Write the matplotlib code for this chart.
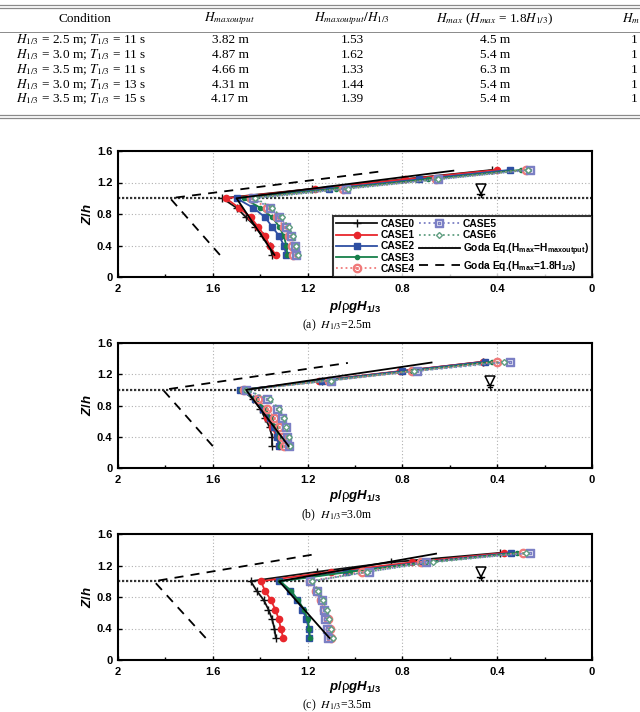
import matplotlib
matplotlib.use("Agg")
import matplotlib.pyplot as plt
from matplotlib.lines import Line2D
from matplotlib.font_manager import FontProperties

plt.rcParams['font.family'] = ['Liberation Sans', 'DejaVu Sans']
plt.rcParams['mathtext.rm'] = 'Liberation Sans:bold'
plt.rcParams['mathtext.it'] = 'Liberation Sans:bold:italic'
plt.rcParams['mathtext.bf'] = 'Liberation Sans:bold'
plt.rcParams['mathtext.sf'] = 'Liberation Sans'

# ---- table (last column is cut by the page edge in the source) ----
tbl_header = ["Condition", r"$H_{maxoutput}$", r"$H_{maxoutput}/H_{1/3}$",
              r"$H_{max}$ ($H_{max}$ = 1.8$H_{1/3}$)", r"$H_{m}$"]
tbl_cond = [r"$H_{1/3}$ = 2.5 m; $T_{1/3}$ = 11 s",
            r"$H_{1/3}$ = 3.0 m; $T_{1/3}$ = 11 s",
            r"$H_{1/3}$ = 3.5 m; $T_{1/3}$ = 11 s",
            r"$H_{1/3}$ = 3.0 m; $T_{1/3}$ = 13 s",
            r"$H_{1/3}$ = 3.5 m; $T_{1/3}$ = 15 s"]
tbl_hout = ["3.82 m", "4.87 m", "4.66 m", "4.31 m", "4.17 m"]
tbl_ratio = ["1.53", "1.62", "1.33", "1.44", "1.39"]
tbl_hmax = ["4.5 m", "5.4 m", "6.3 m", "5.4 m", "5.4 m"]
tbl_last = ["1", "1", "1", "1", "1"]

# ---- chart data ----
case_names = ["CASE0", "CASE1", "CASE2", "CASE3", "CASE4", "CASE5", "CASE6"]
z_lv = [0.28, 0.40, 0.52, 0.64, 0.76, 0.88, 1.00, 1.12, 1.24, 1.36]

p_25 = [
    [1.35, 1.36, 1.39, 1.42, 1.46, 1.50, 1.56, 1.18, 0.80, 0.42],
    [1.335, 1.36, 1.38, 1.41, 1.44, 1.49, 1.545, 1.17, 0.79, 0.40],
    [1.29, 1.30, 1.32, 1.35, 1.38, 1.43, 1.50, 1.11, 0.73, 0.345],
    [1.285, 1.29, 1.30, 1.32, 1.35, 1.40, 1.47, 1.08, 0.69, 0.30],
    [1.26, 1.265, 1.28, 1.30, 1.33, 1.37, 1.44, 1.05, 0.66, 0.28],
    [1.25, 1.255, 1.27, 1.29, 1.32, 1.36, 1.43, 1.04, 0.65, 0.26],
    [1.24, 1.25, 1.26, 1.28, 1.31, 1.35, 1.42, 1.03, 0.65, 0.27],
]
p_30 = [
    [1.35, 1.35, 1.36, 1.38, 1.40, 1.43, 1.475, 1.14, 0.80, 0.46],
    [1.32, 1.33, 1.35, 1.37, 1.39, 1.42, 1.48, 1.15, 0.81, 0.46],
    [1.32, 1.33, 1.34, 1.36, 1.39, 1.42, 1.485, 1.14, 0.80, 0.45],
    [1.315, 1.32, 1.335, 1.355, 1.38, 1.42, 1.48, 1.12, 0.77, 0.42],
    [1.30, 1.31, 1.32, 1.34, 1.37, 1.41, 1.47, 1.11, 0.76, 0.40],
    [1.28, 1.285, 1.29, 1.31, 1.33, 1.37, 1.46, 1.10, 0.74, 0.345],
    [1.275, 1.28, 1.29, 1.30, 1.32, 1.36, 1.46, 1.10, 0.75, 0.37],
]
p_35 = [
    [1.334, 1.34, 1.35, 1.365, 1.385, 1.415, 1.44, 1.16, 0.85, 0.39],
    [1.303, 1.313, 1.322, 1.336, 1.355, 1.38, 1.397, 1.10, 0.76, 0.37],
    [1.193, 1.196, 1.205, 1.222, 1.245, 1.275, 1.32, 1.04, 0.72, 0.34],
    [1.19, 1.193, 1.20, 1.215, 1.24, 1.27, 1.315, 1.02, 0.70, 0.315],
    [1.10, 1.105, 1.115, 1.13, 1.145, 1.165, 1.19, 0.97, 0.72, 0.29],
    [1.115, 1.118, 1.125, 1.13, 1.14, 1.16, 1.19, 0.94, 0.70, 0.26],
    [1.094, 1.10, 1.11, 1.12, 1.135, 1.155, 1.18, 0.95, 0.67, 0.28],
]

goda_out_z = [0.28, 1.0, 1.35]
goda_out_25 = [1.34, 1.50, 0.585]
goda_out_30 = [1.28, 1.46, 0.677]
goda_out_35 = [1.108, 1.32, 0.658]
goda_18_z = [0.28, 1.0, 1.345]
goda_18_25 = [1.57, 1.78, 0.88]
goda_18_30 = [1.60, 1.81, 1.03]
goda_18_35 = [1.63, 1.848, 1.165]

swl_x = [0.47, 0.43, 0.47]
captions = [r"(a)  $H_{\mathrm{1/3}}$=2.5m", r"(b)  $H_{\mathrm{1/3}}$=3.0m", r"(c)  $H_{\mathrm{1/3}}$=3.5m"]

colors = ["#111111", "#e8262c", "#2e4fa3", "#17804a", "#f07a7a", "#7b7fc4", "#5f9e80"]
markers = ["+", "o", "s", "o", r"$\odot$", r"$\boxdot$", "D"]
msizes = [6, 4.5, 4, 3, 6, 6, 3]
lstyles = ["-", "-", "-", "-", ":", ":", ":"]

W, H = 640, 712
fig = plt.figure(figsize=(6.4, 7.12), dpi=100)


def fx(x):
    return x / W


def fy(y):
    return 1 - y / H


# table rules
for yy, lw in [(5, 0.9), (7.5, 0.9), (32, 0.7), (115, 0.9), (117.5, 0.9)]:
    fig.add_artist(Line2D([0, 1], [fy(yy), fy(yy)], color="#8a8a8a", lw=lw))

tkw = dict(fontfamily="Liberation Serif", math_fontfamily="stix", size=9.5, va="center")
col_x = [85, 230, 352, 495, 622]
fig.text(fx(col_x[0]), fy(19), tbl_header[0], ha="center", **tkw)
fig.text(fx(col_x[1]), fy(19), tbl_header[1], ha="center", **tkw)
fig.text(fx(col_x[2]), fy(19), tbl_header[2], ha="center", **tkw)
fig.text(fx(col_x[3]), fy(19), tbl_header[3], ha="center", **tkw)
fig.text(fx(col_x[4]), fy(19), tbl_header[4], ha="left", **tkw)
row_y = [40, 55, 70, 85, 99]
for i, ry in enumerate(row_y):
    fig.text(fx(16), fy(ry), tbl_cond[i], ha="left", **tkw)
    fig.text(fx(col_x[1]), fy(ry), tbl_hout[i], ha="center", **tkw)
    fig.text(fx(col_x[2]), fy(ry), tbl_ratio[i], ha="center", **tkw)
    fig.text(fx(col_x[3]), fy(ry), tbl_hmax[i], ha="center", **tkw)
    fig.text(fx(631), fy(ry), tbl_last[i], ha="left", **tkw)

# panels: (top px, bottom px)
panel_px = [(151, 277), (343, 468), (534, 660)]
xlabel_y = [307, 496, 687]
caption_y = [325, 515, 705]
pdata = [p_25, p_30, p_35]
gout = [goda_out_25, goda_out_30, goda_out_35]
g18 = [goda_18_25, goda_18_30, goda_18_35]

leg_prop = FontProperties(family="Liberation Sans", weight="bold", size=7.4, math_fontfamily="custom")

for k in range(3):
    top, bot = panel_px[k]
    ax = fig.add_axes([fx(118), fy(bot), (592 - 118) / W, (bot - top) / H])
    handles = []
    for i in range(7):
        mfc = colors[i] if i < 4 else "white"
        ln, = ax.plot(pdata[k][i], z_lv, color=colors[i], ls=lstyles[i], lw=1.3,
                      marker=markers[i], ms=msizes[i], mfc=mfc, mec=colors[i], mew=1.0,
                      label=case_names[i])
        handles.append(ln)
    l1, = ax.plot(gout[k], goda_out_z, color="black", ls="-", lw=1.3,
                  label=r"Goda Eq.(H$_{\mathrm{max}}$=H$_{\mathrm{maxoutput}}$)")
    l2, = ax.plot(g18[k], goda_18_z, color="black", ls=(0, (5, 4)), lw=1.3,
                  label=r"Goda Eq.(H$_{\mathrm{max}}$=1.8H$_{\mathrm{1/3}}$)")
    handles += [l1, l2]

    ax.axhline(1.0, color="#333333", ls=(0, (1, 0.8)), lw=1.6, zorder=1)
    # still water level symbol
    sx = swl_x[k]
    ax.plot([sx], [1.115], marker="v", ms=7, mfc="white", mec="black", mew=1.1, zorder=5)
    ax.plot([sx - 0.014, sx + 0.014], [1.06, 1.06], color="black", lw=1.0)
    ax.plot([sx - 0.007, sx + 0.007], [1.035, 1.035], color="black", lw=1.0)
    ax.plot([sx, sx], [1.02, 1.07], color="black", lw=1.0)

    ax.set_xlim(2, 0)
    ax.set_ylim(0, 1.6)
    ax.set_xticks([2, 1.6, 1.2, 0.8, 0.4, 0])
    ax.set_xticklabels(["2", "1.6", "1.2", "0.8", "0.4", "0"])
    ax.set_xticks([1.8, 1.4, 1.0, 0.6, 0.2], minor=True)
    ax.set_yticks([0, 0.4, 0.8, 1.2, 1.6])
    ax.set_yticklabels(["0", "0.4", "0.8", "1.2", "1.6"])
    ax.grid(True, which="major", ls=(0, (1, 2)), color="#b0b0b0", lw=0.8)
    ax.tick_params(direction="in", length=3, width=1, labelsize=8)
    ax.tick_params(axis="x", which="minor", direction="in", length=2.5, width=1)
    ax.tick_params(axis="x", pad=5)
    ax.tick_params(axis="y", pad=4)
    for lab in ax.get_xticklabels() + ax.get_yticklabels():
        lab.set_fontweight("bold")
    for sp in ax.spines.values():
        sp.set_linewidth(1.5)
    ax.set_ylabel(r"$Z/h$", fontsize=9.5, math_fontfamily="custom", labelpad=2)

    fig.text(fx(355), fy(xlabel_y[k]), r"$p/\mathsf{\rho}gH_{1/3}$", fontsize=9.5,
             math_fontfamily="custom", ha="center", va="center")
    fig.text(fx(337), fy(caption_y[k]), captions[k], fontfamily="Liberation Serif",
             math_fontfamily="stix", size=8.5, ha="center", va="center")

    if k == 0:
        leg = ax.legend(handles=handles, loc="lower right", bbox_to_anchor=(1, 0), ncol=2,
                        prop=leg_prop, frameon=True, fancybox=False, borderaxespad=0,
                        handlelength=4, handletextpad=0.3, columnspacing=0.4,
                        labelspacing=0.12, borderpad=0.3)
        leg.get_frame().set_edgecolor("black")
        leg.get_frame().set_linewidth(1.5)

fig.savefig("out.png", dpi=100)
